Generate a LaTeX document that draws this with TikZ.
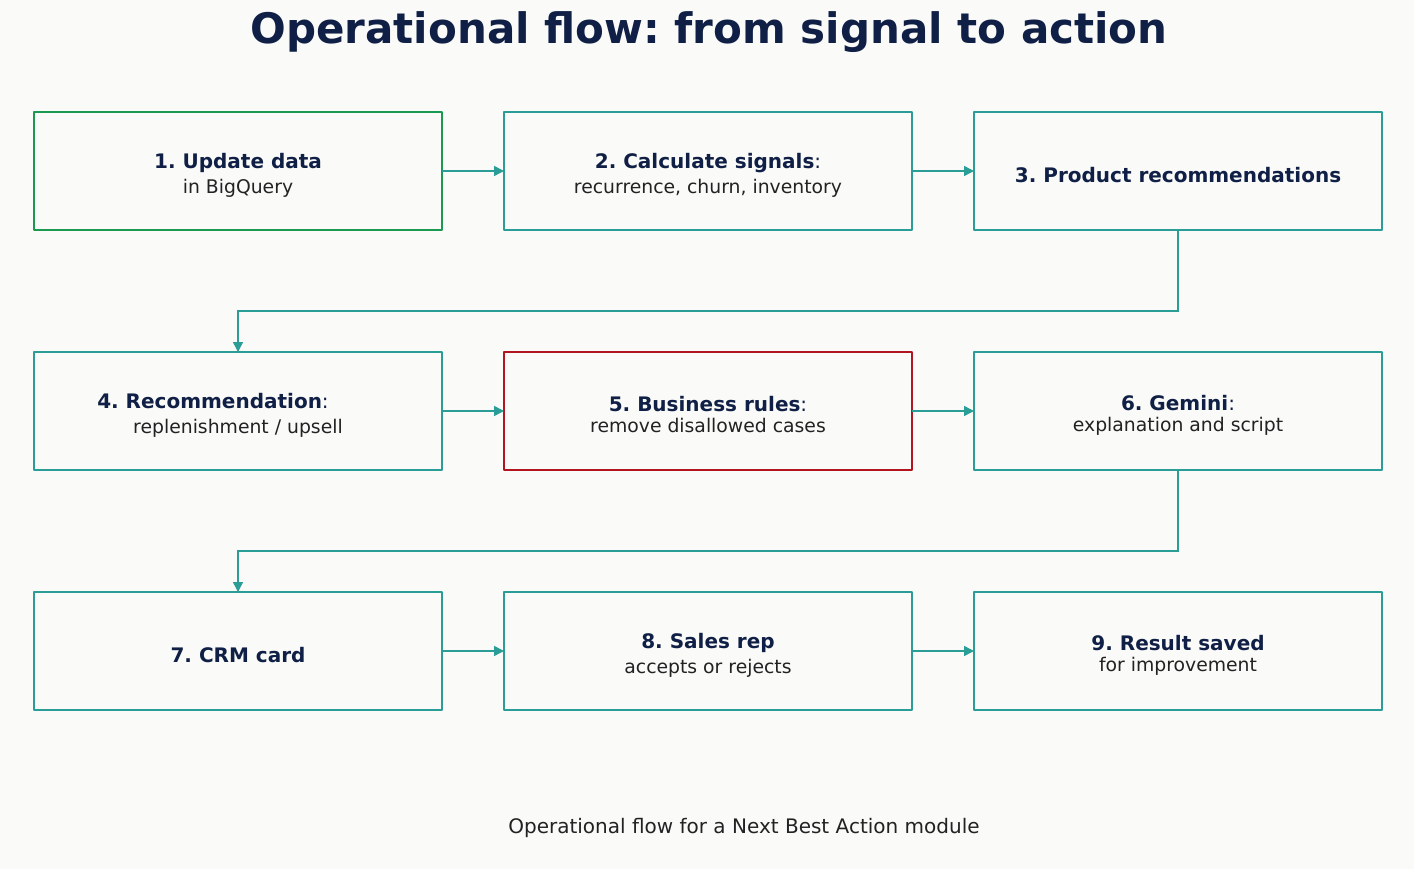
\documentclass[tikz,border=0pt]{standalone}
\usepackage{fontspec}
\setmainfont{DejaVu Sans}
\usepackage{xcolor}
\usetikzlibrary{arrows.meta,positioning}
\definecolor{navy}{HTML}{0F1F45}
\definecolor{flowteal}{HTML}{2A9D96}
\definecolor{flowgreen}{HTML}{1A9A50}
\definecolor{flowred}{HTML}{B2151F}
\definecolor{ink}{HTML}{222222}
\definecolor{paper}{HTML}{FAFAF8}
\newcommand{\hd}[1]{\rule{0pt}{23pt}{\fontsize{20}{25}\selectfont\bfseries\color{navy}#1}}
\newcommand{\cl}{{\fontsize{20}{25}\selectfont\color{navy}:}}
\frenchspacing

\begin{document}
\begin{tikzpicture}[
  node distance=122pt and 62pt,
  box/.style={draw=flowteal, line width=2.2pt, line join=round, minimum width=408pt, minimum height=118pt,
    inner sep=0pt, outer sep=0pt, align=center, text=ink, font=\fontsize{18.8}{25}\selectfont},
  arr/.style={-{Triangle[length=10pt,width=10pt]}, draw=flowteal, line width=1.5pt}]
  \fill[paper] (0,0) rectangle (1414pt,-869pt);
  \useasboundingbox (0,0) rectangle (1414pt,-869pt);
  \node[font=\fontsize{42}{50}\selectfont\bfseries, text=navy] (title) at (709pt,-32pt) {Operational flow: from signal to action};
  % row 1
  \node[box, draw=flowgreen] (b1) at (238pt,-171pt) {\hd{1. Update data}\\ in BigQuery};
  \node[box, right=of b1] (b2) {\hd{2. Calculate signals}\cl\\ recurrence, churn, inventory};
  \node[box, right=of b2] (b3) {\hd{3. Product recommendations}};
  % row 2
  \node[box, below=of b1] (b4) {\hd{4. Recommendation}\cl\hspace*{50pt}\\ replenishment / upsell};
  \node[box, draw=flowred, right=of b4] (b5) {\hd{5. Business rules}\cl\\[-4pt] remove disallowed cases};
  \node[box, right=of b5] (b6) {\hd{6. Gemini}\cl\\[-4pt] explanation and script};
  % row 3
  \node[box, below=of b4] (b7) {\hd{7. CRM card}};
  \node[box, right=of b7] (b8) {\hd{8. Sales rep}\\ accepts or rejects};
  \node[box, right=of b8] (b9) {\hd{9. Result saved}\\[-4pt] for improvement};
  \draw[arr] (b1) -- (b2);
  \draw[arr] (b2) -- (b3);
  \draw[arr] (b3.south) -- ++(0,-81pt) -| (b4.north);
  \draw[arr] (b4) -- (b5);
  \draw[arr] (b5) -- (b6);
  \draw[arr] (b6.south) -- ++(0,-81pt) -| (b7.north);
  \draw[arr] (b7) -- (b8);
  \draw[arr] (b8) -- (b9);
  \node[font=\fontsize{20}{24}\selectfont, text=ink] (cap) at (744pt,-828pt) {Operational flow for a Next Best Action module};
\end{tikzpicture}
\end{document}
